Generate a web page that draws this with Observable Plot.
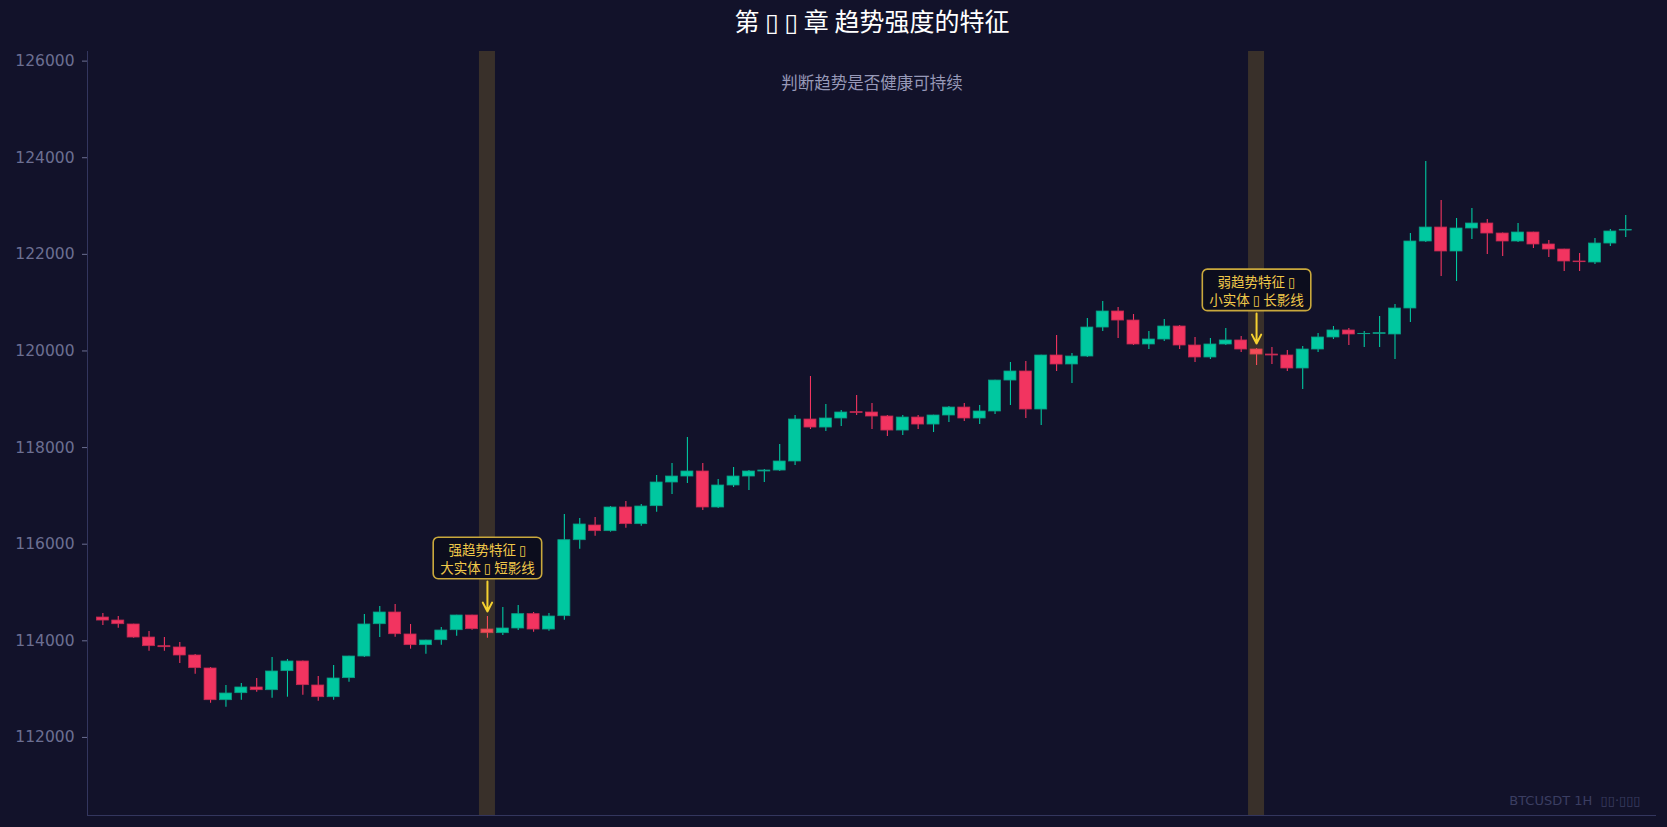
<!DOCTYPE html>
<html><head><meta charset="utf-8">
<script src="https://cdn.jsdelivr.net/npm/d3@7"></script>
<script src="https://cdn.jsdelivr.net/npm/@observablehq/plot@0.6"></script>
<style>
html,body{margin:0;padding:0;background:#12122a;}
#chart svg{display:block;}
</style></head><body><div id="chart"></div>
<script>
// ---- data ----
const opens = [114482,114420,114338,114068,113889,113862,113696,113427,112771,112916,
113034,112978,113372,113572,113075,112833,113227,113675,114344,114586,
114131,113910,114013,114220,114524,114234,114158,114255,114552,114234,
114510,116083,116387,116270,116760,116415,116787,117277,117401,117505,
116760,117215,117401,117505,117525,117712,118581,118415,118602,118733,
118726,118643,118353,118622,118477,118664,118829,118602,118747,119388,
119575,118788,119906,119720,119885,120485,120817,120630,120134,120237,
120506,120113,119865,120134,120217,120030,119926,119906,119637,120030,
120279,120424,120348,120354,120341,120879,122266,122555,122059,122535,
122638,122431,122266,122452,122204,122100,121852,121831,122224,122493];
const highs = [114565,114503,114345,114193,114068,113965,113717,113448,113075,113116,
113220,113655,113613,113580,113261,113489,113680,114545,114710,114752,
114338,114010,114275,114530,114530,114503,114690,114731,114586,114565,
116615,116532,116553,116780,116884,116822,117422,117670,118209,117670,
117339,117588,117525,117546,118064,118664,119471,118892,118767,119078,
118912,118664,118664,118664,118670,118850,118912,118871,119395,119761,
119782,119910,120320,119947,120672,121024,120900,120755,120403,120651,
120527,120278,120258,120465,120300,120051,120071,120010,120092,120361,
120506,120465,120403,120713,120962,122431,123922,123114,122742,122949,
122721,122440,122638,122460,122286,122105,122017,122328,122514,122804];
const lows = [114317,114262,114055,113786,113786,113530,113310,112709,112626,112771,
112937,112813,112833,112875,112751,112771,113144,113655,114068,114075,
113827,113724,113910,114096,114220,114055,114110,114213,114179,114200,
114427,115897,116166,116249,116332,116373,116663,117029,117256,116697,
116739,117173,117111,117277,117505,117629,118374,118333,118436,118664,
118374,118229,118250,118374,118312,118519,118540,118477,118685,118871,
118602,118457,119575,119326,119865,120403,120258,120113,120030,120196,
120030,119761,119823,120113,119968,119699,119720,119575,119202,119968,
120237,120113,120071,120071,119823,120589,122245,121541,121438,122307,
121997,121955,122245,122121,121935,121645,121645,121790,122162,122348];
const closes = [114420,114344,114068,113889,113868,113696,113434,112771,112909,113034,
112978,113365,113572,113082,112833,113220,113675,114338,114586,114137,
113910,114006,114213,114524,114241,114158,114255,114552,114234,114503,
116083,116408,116270,116760,116415,116780,117277,117401,117505,116760,
117215,117401,117505,117525,117712,118581,118415,118602,118726,118719,
118643,118353,118622,118477,118664,118829,118602,118747,119388,119575,
118788,119906,119720,119885,120485,120817,120630,120134,120237,120506,
120113,119865,120134,120217,120030,119926,119906,119637,120030,120279,
120424,120341,120354,120368,120879,122266,122555,122059,122535,122638,
122431,122266,122452,122204,122100,121852,121838,122224,122473,122507];
const yTicks = [112000,114000,116000,118000,120000,122000,124000,126000];
const highlightIdx = [25, 75];
const annoIdx = [25, 75];
const annoText = ["强趋势特征 ▯\n大实体 ▯ 短影线", "弱趋势特征 ▯\n小实体 ▯ 长影线"];
const titleText = "第 ▯ ▯ 章 趋势强度的特征";
const subtitleText = "判断趋势是否健康可持续";
const footerText = "BTCUSDT 1H  ▯▯·▯▯▯";

// ---- layout / style ----
const W = 1667, H = 827, mL = 87, mR = 11, mT = 51, mB = 12;
const xDomain = [-1, 101];
const yDomain = [110384, 126199];
const upp = (yDomain[1] - yDomain[0]) / (H - mT - mB); // price units per pixel
const UP = "#00c8a0", DOWN = "#f23460";
const UP_EDGE = "#0a9c84", DOWN_EDGE = "#c22a52";
const CJK = "'Noto Sans CJK SC', 'DejaVu Sans', sans-serif";

const candles = opens.map((o, i) => ({i, o, h: highs[i], l: lows[i], c: closes[i], up: closes[i] >= o}));
const annos = annoIdx.map((i, k) => ({i, h: highs[i], text: annoText[k]}));

const chart = Plot.plot({
  width: W, height: H,
  marginLeft: mL, marginRight: mR, marginTop: mT, marginBottom: mB,
  style: {background: "#12122a", fontFamily: "'DejaVu Sans', sans-serif", fontSize: "15.5px", color: "#6c6f92"},
  x: {type: "linear", domain: xDomain, axis: null},
  y: {domain: yDomain, axis: null},
  marks: [
    Plot.ruleX(candles, {x: "i", y1: "l", y2: "h", stroke: d => d.up ? UP : DOWN, strokeWidth: 1.1}),
    Plot.rect(candles, {x1: d => d.i - 0.39, x2: d => d.i + 0.39, y1: "o", y2: "c",
      fill: d => d.up ? UP : DOWN, stroke: d => d.up ? UP_EDGE : DOWN_EDGE, strokeWidth: 0.8}),
    Plot.rect(highlightIdx, {x1: d => d - 0.52, x2: d => d + 0.52, fill: "#ffc832", fillOpacity: 0.17}),
    Plot.ruleX([xDomain[0]], {stroke: "#33365e", strokeWidth: 1}),
    Plot.ruleY([yDomain[0]], {stroke: "#33365e", strokeWidth: 1}),
    Plot.axisY(yTicks, {anchor: "left", tickSize: 5, tickPadding: 8, tickFormat: d => String(d),
      fontSize: 15.5, color: "#6c6f92", label: null}),
    Plot.arrow(annos, {x: "i", y1: d => d.h + 35 * upp, y2: d => d.h + 5 * upp,
      stroke: "#f5d130", strokeWidth: 2, headLength: 9, headAngle: 55}),
    Plot.text(annos, {x: "i", y: "h", dy: -58.5, text: "text", fill: "#f0c84a",
      fontSize: 13.5, lineHeight: 1.37, fontFamily: CJK, className: "anno"}),
    Plot.text([titleText], {frameAnchor: "top", lineAnchor: "middle", dy: -29, text: d => d, fontSize: 25,
      fill: "#ffffff", fontFamily: CJK}),
    Plot.text([subtitleText], {frameAnchor: "top", lineAnchor: "middle", dy: 32, text: d => d, fontSize: 16.5,
      fill: "#9799b8", fontFamily: CJK}),
    Plot.text([footerText], {frameAnchor: "bottom-right", lineAnchor: "middle", dx: -16, dy: -15, text: d => d,
      textAnchor: "end", fontSize: 13, fill: "#3b3e62", fontFamily: "'DejaVu Sans', sans-serif"})
  ]
});
document.getElementById("chart").appendChild(chart);

// draw rounded boxes behind annotation texts
chart.querySelectorAll("g.anno text").forEach(t => {
  const b = t.getBBox();
  const r = document.createElementNS("http://www.w3.org/2000/svg", "rect");
  const px = 7, py = 1.5;
  r.setAttribute("x", b.x - px);
  r.setAttribute("y", b.y - py);
  r.setAttribute("width", b.width + 2 * px);
  r.setAttribute("height", b.height + 2 * py);
  r.setAttribute("rx", 5);
  r.setAttribute("fill", "#0c0d1d");
  r.setAttribute("stroke", "#c9a83c");
  r.setAttribute("stroke-width", 1.6);
  if (t.getAttribute("transform")) r.setAttribute("transform", t.getAttribute("transform"));
  t.parentNode.insertBefore(r, t);
});
</script></body></html>
